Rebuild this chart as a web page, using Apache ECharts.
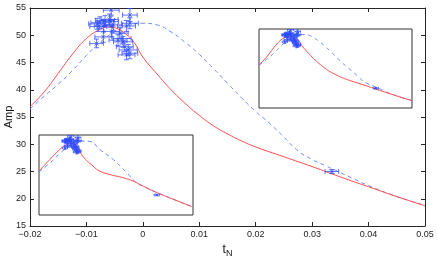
<!DOCTYPE html>
<html><head><meta charset="utf-8">
<script src="https://cdn.jsdelivr.net/npm/echarts@6/dist/echarts.min.js"></script>
<style>html,body{margin:0;padding:0;background:#fff}#c{width:437px;height:256px}</style>
</head><body><div id="c"></div>
<script>
// Axis ticks
const xTicks = [-0.02, -0.01, 0, 0.01, 0.02, 0.03, 0.04, 0.05];
const yTicks = [15, 20, 25, 30, 35, 40, 45, 50, 55];

// Main solid (red) model curve
const redT   = [-0.02,-0.0175,-0.015,-0.0125,-0.01,-0.0075,-0.006,-0.0045,-0.003,-0.0015,0,0.0025,0.005,0.0075,0.01,0.0125,0.015,0.0175,0.02,0.025,0.03,0.035,0.04,0.045,0.05];
const redAmp = [36.9,39.6,43.0,46.5,49.4,51.1,51.5,51.2,50.2,48.6,46.0,42.9,40.0,37.5,35.3,33.4,31.9,30.6,29.5,27.7,25.9,24.0,22.2,20.4,18.7];

// Main dashed (blue) model curve
const blueT   = [-0.02,-0.0175,-0.015,-0.0125,-0.01,-0.0075,-0.005,-0.0025,0,0.0025,0.005,0.0075,0.01,0.0125,0.015,0.0175,0.02,0.0225,0.025,0.0275,0.03,0.0325,0.035,0.0375,0.04,0.045,0.05];
const blueAmp = [36.5,38.8,41.0,43.5,46.3,48.8,50.6,51.8,52.2,51.9,50.6,48.7,46.5,43.9,41.2,38.5,36.0,33.8,31.3,28.8,27.2,26.0,24.8,23.6,22.4,20.4,18.8];

// Lower-left inset curves
const in2RedT   = [-0.02,-0.0151,-0.0106,-0.0075,-0.0052,-0.003,-0.0001,0.0046,0.0077,0.0123,0.0184,0.0229,0.0274,0.0336,0.0412,0.0495];
const in2RedAmp = [36.9,42.7,47.7,50.2,51.0,49.8,44.4,39.4,36.9,35.2,33.6,31.9,29.4,26.2,22.8,19.2];
const in2BlueT   = [-0.02,-0.015,-0.01,-0.005,-0.001,0.0031,0.0077,0.0138,0.0199,0.0244,0.0274,0.0336,0.0412,0.0495];
const in2BlueAmp = [36.5,41.0,46.3,50.6,52.0,51.8,47.7,42.7,36.1,31.0,29.4,26.2,22.8,19.2];

// Measured points with error bars
const ptT      = [-0.0081,-0.0076,-0.0067,-0.0059,-0.0057,-0.0070,-0.0079,-0.0052,-0.0055,-0.0070,-0.0082,-0.0056,-0.0023,-0.0023,-0.0029,-0.0041,-0.0044,-0.0035,-0.0032,-0.0026,-0.0023,-0.0029,-0.0037,0.0335];
const ptAmp    = [52.1,52.3,52.7,52.9,52.5,51.7,51.6,51.9,50.7,49.7,48.5,54.6,53.7,52.2,51.7,50.4,49.1,48.8,47.9,47.3,46.7,46.4,49.4,25.0];
const ptTErr   = [0.0015,0.0016,0.0017,0.0015,0.0014,0.0016,0.0015,0.0016,0.0014,0.0015,0.0012,0.0014,0.0013,0.0015,0.0016,0.0015,0.0016,0.0017,0.0015,0.0016,0.0014,0.0015,0.0016,0.0012];
const ptAmpErr = [1.0,1.1,0.9,1.0,1.0,1.1,0.9,1.0,1.0,1.0,0.8,0.9,1.2,1.0,1.0,1.0,1.0,1.0,0.9,1.0,1.0,0.9,1.0,0.35];

const FONT = 'Liberation Sans, Arial, sans-serif';
const AX = '#262626';
const RED = '#ff4d4d';
const BLUE = '#6f86ff';
const EB = 'rgba(45,75,255,0.75)';

const zip = (a, b) => a.map((v, i) => [v, b[i]]);
const ptData = ptT.map((t, i) => [t, ptAmp[i], ptTErr[i], ptAmpErr[i]]);

function fmtX(v) {
  const r = Math.round(v * 100) / 100;
  if (r === 0) return '0';
  return (r < 0 ? '\u2212' : '') + Math.abs(r).toString();
}

function errRender(cap, mk) {
  return function (params, api) {
    const t = api.value(0), a = api.value(1), dt = api.value(2), da = api.value(3);
    const c = api.coord([t, a]);
    const l = api.coord([t - dt, a]), r = api.coord([t + dt, a]);
    const tp = api.coord([t, a + da]), bt = api.coord([t, a - da]);
    const st = { stroke: EB, lineWidth: 1, fill: null };
    const L = (x1, y1, x2, y2) => ({ type: 'line', shape: { x1, y1, x2, y2 }, style: st });
    return {
      type: 'group',
      children: [
        L(l[0], c[1], r[0], c[1]),
        L(l[0], c[1] - cap, l[0], c[1] + cap),
        L(r[0], c[1] - cap, r[0], c[1] + cap),
        L(c[0], tp[1], c[0], bt[1]),
        L(c[0] - cap, tp[1], c[0] + cap, tp[1]),
        L(c[0] - cap, bt[1], c[0] + cap, bt[1]),
        L(c[0] - mk, c[1] - mk, c[0] + mk, c[1] + mk),
        L(c[0] - mk, c[1] + mk, c[0] + mk, c[1] - mk)
      ]
    };
  };
}

const baseX = { type: 'value', min: xTicks[0], max: xTicks[xTicks.length - 1], interval: 0.01, splitLine: { show: false } };
const baseY = { type: 'value', min: yTicks[0], max: yTicks[yTicks.length - 1], interval: 5, splitLine: { show: false } };

function lineSeries(xi, data, color, dashed, z) {
  return {
    type: 'line', xAxisIndex: xi, yAxisIndex: xi, data, showSymbol: false, symbol: 'none',
    smooth: 0.5, z, silent: true,
    lineStyle: { color, width: 1, type: dashed ? [4, 3.5] : 'solid' }
  };
}
function errSeries(xi, cap, mk, z) {
  return { type: 'custom', xAxisIndex: xi, yAxisIndex: xi, data: ptData, renderItem: errRender(cap, mk), clip: true, z, silent: true };
}

const gridBase = { containLabel: false, outerBoundsMode: 'none' };

const option = {
  animation: false,
  backgroundColor: '#fff',
  grid: [
    Object.assign({ left: 30, top: 8, width: 395, height: 218, show: false }, gridBase),
    Object.assign({ left: 259, top: 29, width: 153, height: 79, show: true, backgroundColor: '#fff', borderColor: '#333', borderWidth: 1, z: 5 }, gridBase),
    Object.assign({ left: 39, top: 135, width: 154, height: 80, show: true, backgroundColor: '#fff', borderColor: '#333', borderWidth: 1, z: 5 }, gridBase)
  ],
  xAxis: [
    Object.assign({}, baseX, {
      gridIndex: 0, position: 'bottom',
      axisLine: { onZero: false, lineStyle: { color: AX, width: 1 } },
      axisTick: { inside: true, length: 4, lineStyle: { color: AX } },
      axisLabel: { fontSize: 9, color: '#222', fontFamily: FONT, margin: 4, formatter: fmtX },
      name: '{t|t}{n|N}', nameLocation: 'middle', nameGap: 10,
      nameTextStyle: { rich: { t: { fontSize: 12, fontFamily: FONT, color: '#111' }, n: { fontSize: 9, fontFamily: FONT, color: '#111', padding: [8, 0, 0, 0] } } }
    }),
    Object.assign({}, baseX, {
      gridIndex: 0, position: 'top',
      axisLine: { onZero: false, lineStyle: { color: AX, width: 1 } },
      axisTick: { inside: true, length: 4, lineStyle: { color: AX } },
      axisLabel: { show: false }
    }),
    Object.assign({}, baseX, { gridIndex: 1, show: false }),
    Object.assign({}, baseX, { gridIndex: 2, show: false })
  ],
  yAxis: [
    Object.assign({}, baseY, {
      gridIndex: 0, position: 'left',
      axisLine: { show: true, onZero: false, lineStyle: { color: AX, width: 1 } },
      axisTick: { show: true, inside: true, length: 4, lineStyle: { color: AX } },
      axisLabel: { fontSize: 9, color: '#222', fontFamily: FONT, margin: 4 },
      name: 'Amp', nameLocation: 'middle', nameGap: 16, nameRotate: 90, nameMoveOverlap: false,
      nameTextStyle: { fontSize: 11, fontFamily: FONT, color: '#111' }
    }),
    Object.assign({}, baseY, {
      gridIndex: 0, position: 'right',
      axisLine: { show: true, onZero: false, lineStyle: { color: AX, width: 1 } },
      axisTick: { show: true, inside: true, length: 4, lineStyle: { color: AX } },
      axisLabel: { show: false }
    }),
    Object.assign({}, baseY, { gridIndex: 1, show: false }),
    Object.assign({}, baseY, { gridIndex: 2, show: false })
  ],
  series: [
    lineSeries(0, zip(blueT, blueAmp), BLUE, true, 2),
    lineSeries(0, zip(redT, redAmp), RED, false, 2),
    errSeries(0, 2.5, 2, 3),
    // upper-right inset
    Object.assign(lineSeries(0, zip(blueT, blueAmp), BLUE, true, 6), { xAxisIndex: 2, yAxisIndex: 2 }),
    Object.assign(lineSeries(0, zip(redT, redAmp), RED, false, 6), { xAxisIndex: 2, yAxisIndex: 2 }),
    Object.assign(errSeries(0, 1.2, 1.5, 7), { xAxisIndex: 2, yAxisIndex: 2 }),
    // lower-left inset
    Object.assign(lineSeries(0, zip(in2BlueT, in2BlueAmp), BLUE, true, 6), { xAxisIndex: 3, yAxisIndex: 3 }),
    Object.assign(lineSeries(0, zip(in2RedT, in2RedAmp), RED, false, 6), { xAxisIndex: 3, yAxisIndex: 3 }),
    Object.assign(errSeries(0, 1.2, 1.5, 7), { xAxisIndex: 3, yAxisIndex: 3 })
  ]
};

const chart = echarts.init(document.getElementById('c'), null, { renderer: 'canvas' });
chart.setOption(option);
</script></body></html>
